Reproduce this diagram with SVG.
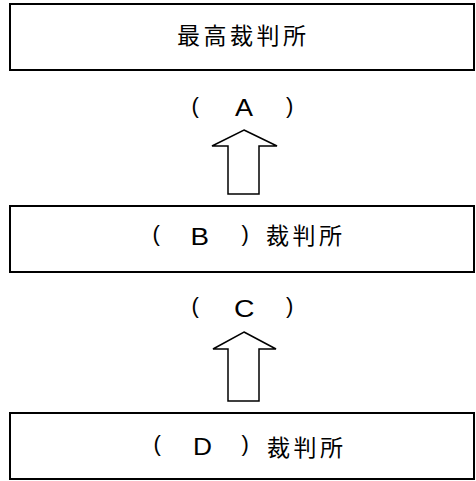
<svg xmlns="http://www.w3.org/2000/svg" width="476" height="481" viewBox="0 0 476 481">
<style>
.box{fill:#fff;stroke:#000;stroke-width:2}
.arrow{fill:#fff;stroke:#000;stroke-width:1.5;stroke-linejoin:miter}
.cjk{font-family:"Noto Sans CJK JP","Liberation Sans",sans-serif;font-size:23px;letter-spacing:3.5px;fill:#000}
.lat{font-family:"Liberation Sans",Arial,sans-serif;font-size:23px;fill:#000}
.par{font-family:"Liberation Sans",Arial,sans-serif;font-size:22px;fill:#000}
</style>
<rect width="476" height="481" fill="#fff"/>
<g id="node-supreme">
<rect class="box" x="10" y="4" width="464" height="66"/>
<text class="cjk" x="177" y="43.5">最高裁判所</text>
</g>
<g id="node-B">
<rect class="box" x="10" y="206" width="464" height="66"/>
<text><tspan class="par" x="152.5" y="241">(</tspan><tspan class="lat" x="190.5" y="245" textLength="18.5" lengthAdjust="spacingAndGlyphs">B</tspan><tspan class="par" x="241.5" y="241">)</tspan><tspan class="cjk" x="266" y="243.5">裁判所</tspan></text>
</g>
<g id="node-D">
<rect class="box" x="10" y="413" width="464" height="66"/>
<text><tspan class="par" x="153.5" y="451">(</tspan><tspan class="lat" x="193" y="455" textLength="19" lengthAdjust="spacingAndGlyphs">D</tspan><tspan class="par" x="241.5" y="451">)</tspan><tspan class="cjk" x="267" y="455.5">裁判所</tspan></text>
</g>
<g id="connectors">
<g id="edge-B-supreme">
<path class="arrow" d="M244 130 L277 146 L259 146 L259 194 L228 194 L228 146 L212 146 Z"/>
<text><tspan class="par" x="191.5" y="113">(</tspan><tspan class="lat" x="235" y="116" textLength="18" lengthAdjust="spacingAndGlyphs">A</tspan><tspan class="par" x="286" y="113">)</tspan></text>
</g>
<g id="edge-D-B">
<path class="arrow" d="M244 332 L276 349 L259 349 L259 401 L228 401 L228 349 L213 349 Z"/>
<text><tspan class="par" x="191.5" y="313">(</tspan><tspan class="lat" x="234" y="317" textLength="20.5" lengthAdjust="spacingAndGlyphs">C</tspan><tspan class="par" x="286" y="313">)</tspan></text>
</g>
</g>
</svg>
